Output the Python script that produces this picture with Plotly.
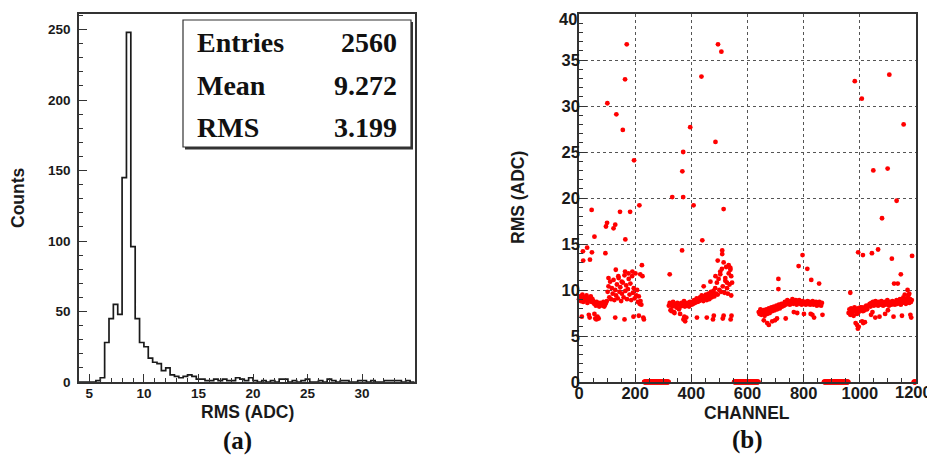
import plotly.graph_objects as go

# page body has an 8 px default margin; the figure is sized to fit the window
OFF = 8
W, H = 935 - OFF, 455 - OFF

# ---------------- Panel (a): histogram of channel RMS ----------------
hist_start = 4.0
hist_bin_width = 0.4
hist_counts = [
    0, 0, 0, 0, 1, 3, 28, 45, 55, 48, 145, 248, 96, 45, 28, 25, 17, 14, 13, 8,
    10, 5, 4, 3, 4, 5, 4, 2, 2, 1, 1, 2, 1, 2, 1, 1, 3, 2, 1, 3,
    1, 0, 1, 0, 1, 0, 2, 2, 0, 1, 0, 1, 2, 0, 0, 1, 0, 2, 1, 0,
    1, 1, 0, 0, 1, 1, 0, 1, 0, 0, 1, 1, 1, 1, 0, 1, 0,
]
hist_xticks = [5, 10, 15, 20, 25, 30]
hist_yticks = [0, 50, 100, 150, 200, 250]
stats_labels = ["Entries", "Mean", "RMS"]
stats_values = ["2560", "9.272", "3.199"]

# ---------------- Panel (b): RMS per channel ----------------
chan_xticks = [0, 200, 400, 600, 800, 1000, 1200]
rms_yticks = [0, 5, 10, 15, 20, 25, 30, 35, 40]

band_step = 3
block1_start = 0
block1_band = [
    9.0, 9.3, 8.8, 9.1, 9.5, 8.7, 9.0, 9.2, 8.9, 9.4, 8.6, 9.1, 8.8, 9.0, 9.3, 8.7, 9.0,
    8.8, 8.5, 8.6, 8.3, 8.7, 8.4, 8.5, 8.2, 8.6, 8.4, 8.5, 8.3, 8.7, 8.5, 8.4, 8.6, 8.8,
    9.8, 10.4, 9.2, 10.9, 9.0, 10.2, 9.6, 11.1, 8.9, 10.0, 9.4, 10.6, 9.1, 11.3, 9.8,
    10.3, 8.8, 9.6, 10.8, 9.2, 11.6, 9.9, 10.5, 9.0, 10.1, 11.2, 9.5, 10.7, 8.9, 11.5,
    9.7, 10.2, 9.1, 11.8, 9.4, 10.0, 8.7, 9.3, 8.5, 8.8, 8.4,
]
block2_start = 320
block2_band = [
    8.3, 8.6, 7.8, 8.4, 8.2, 8.7, 7.6, 8.5, 8.3, 8.1, 8.6, 8.4, 7.9, 8.5, 8.2, 8.6, 8.3,
    8.4, 8.8, 8.2, 8.5, 8.3, 8.6, 8.4, 8.2, 8.7, 8.5,
    8.4, 8.7, 8.5, 8.9, 8.6, 8.8, 9.1, 8.7, 9.0, 8.8, 9.2, 8.9, 9.4, 9.0, 8.8, 9.3, 9.1,
    9.5, 8.9, 9.2, 9.6, 9.0, 9.4, 9.8, 9.2, 9.5, 9.9,
    9.3, 10.2, 9.6, 10.8, 9.5, 11.2, 10.0, 11.7, 9.8, 12.3, 10.4, 13.0, 9.7, 11.0, 12.5,
    10.2, 9.6, 11.8, 10.6, 12.4, 9.4, 10.8,
]
block3_start = 640
block3_band = [
    7.6, 7.4, 7.9, 7.3, 7.7, 7.5, 7.8, 7.2, 7.6, 7.9, 7.4, 7.7, 8.0, 7.5, 7.8, 8.1, 7.7,
    7.9, 8.2, 7.8, 8.1, 8.3, 7.9, 8.2, 8.4, 8.0, 8.3, 8.5, 8.2,
    8.5, 8.3, 8.7, 8.4, 8.6, 8.9, 8.5, 8.7, 8.4, 8.8, 8.6, 9.0, 8.5, 8.8, 8.6, 8.9, 8.4,
    8.7, 8.6, 8.9, 8.5, 8.7, 8.4, 8.8, 8.6, 8.5, 8.7, 8.4, 8.6, 8.8, 8.5, 8.7, 8.4, 8.6,
    8.5, 8.8, 8.4, 8.6, 8.5, 8.7, 8.3, 8.6, 8.4, 8.7, 8.5, 8.3, 8.6,
]
block4_start = 960
block4_band = [
    7.5, 7.9, 7.3, 8.0, 7.6, 7.8, 7.2, 8.1, 7.7, 7.9, 7.4, 8.0, 7.6, 7.8, 8.1,
    7.9, 8.1, 7.7, 8.0, 7.8, 8.2, 8.3, 7.9, 8.2,
    8.3, 8.5, 8.2, 8.6, 8.4, 8.7, 8.3, 8.5, 8.8, 8.4, 8.6, 8.3, 8.7, 8.5, 8.4, 8.8, 8.6,
    8.3, 8.5, 8.7, 8.4, 8.6, 8.9, 8.5, 8.3, 8.7, 8.6, 8.4, 8.8, 8.5, 8.7, 8.4, 8.6, 8.9,
    8.5, 8.7, 8.6, 9.0, 8.4, 8.8, 8.6, 9.2, 8.7, 8.9, 8.5, 9.1, 8.8, 9.4, 8.6, 9.0, 8.7, 8.9,
]

# scattered points away from the main band (channel, rms)
extra_channels = [
    # block 1
    170, 164, 101, 133, 156, 196, 215, 182, 146, 45, 100, 96, 123, 129, 165, 55, 94,
    29, 14, 15, 39, 46, 224, 131, 164, 176, 152, 105, 140, 226, 218, 190,
    10, 35, 38, 55, 58, 62, 66, 70, 90, 129, 162, 194, 229, 231, 213,
    # block 2
    495, 507, 436, 396, 486, 371, 368, 371, 332, 408, 515, 439, 367, 323,
    510, 510, 494, 533, 539, 503, 468, 486, 521, 527, 542, 444,
    330, 340, 360, 372, 375, 378, 382, 420, 455, 477, 480, 512, 515, 540, 543,
    # block 3
    710, 710, 796, 782, 813, 827, 855,
    658, 670, 676, 688, 698, 705, 736, 765, 777, 801, 825, 831, 837, 867,
    # block 4
    982, 1007, 1105, 1156, 1099, 1048, 1131, 1079, 994, 1011, 1043, 1065, 1114,
    1186, 1146, 1122, 1135, 966, 1170, 1176, 1160,
    975, 985, 990, 993, 996, 1008, 1012, 1018, 1040, 1045, 1055, 1070, 1090, 1100,
    1120, 1150, 1180, 1183,
]
extra_rms = [
    # block 1
    36.7, 32.9, 30.3, 29.1, 27.4, 24.1, 19.2, 18.5, 18.5, 18.7, 17.3, 16.9, 16.7, 17.1,
    15.5, 15.8, 14.0, 14.6, 14.2, 13.2, 13.3, 14.1, 12.7, 12.2, 12.0, 11.8, 10.9, 11.3,
    11.5, 11.5, 11.7, 12.0,
    7.1, 7.3, 7.0, 7.4, 6.9, 6.8, 7.1, 6.9, 8.2, 7.0, 6.8, 7.1, 7.0, 6.8, 7.2,
    # block 2
    36.7, 35.9, 33.2, 27.7, 26.1, 25.0, 22.9, 20.1, 20.1, 19.2, 18.8, 15.4, 14.3, 11.7,
    14.3, 13.9, 13.2, 12.7, 12.2, 12.0, 10.9, 11.5, 11.3, 10.8, 11.5, 10.4,
    7.7, 7.5, 7.4, 6.8, 7.1, 6.6, 7.0, 7.0, 7.0, 6.8, 7.2, 6.9, 7.2, 6.8, 7.2,
    # block 3
    11.2, 10.1, 13.8, 12.6, 12.3, 11.1, 10.7,
    6.7, 6.4, 6.2, 6.6, 6.7, 6.9, 6.9, 7.6, 7.5, 7.4, 7.4, 7.3, 7.0, 7.3,
    # block 4
    32.7, 30.8, 33.4, 28.0, 23.2, 23.0, 19.7, 17.8, 14.1, 13.8, 14.0, 14.4, 13.4,
    13.7, 11.7, 10.7, 10.7, 9.7, 10.0, 9.6, 9.5,
    7.3, 6.4, 6.2, 5.8, 6.0, 6.6, 6.4, 6.5, 7.3, 7.6, 7.0, 7.1, 7.4, 7.8,
    7.1, 7.2, 7.3, 7.0,
]
# dead channels (RMS = 0), inclusive ranges
dead_ranges = [(232, 319), (552, 639), (872, 959), (1192, 1199)]


def px(x):
    # x in window pixels -> paper fraction
    return (x - OFF) / W


def py(y):
    return 1 - (y - OFF) / H


fig = go.Figure()

# histogram as ROOT-style step outline
edges = [hist_start + i * hist_bin_width for i in range(len(hist_counts) + 1)]
fig.add_trace(go.Scatter(
    x=edges, y=hist_counts + [hist_counts[-1]], mode="lines",
    line=dict(shape="hv", color="#1a1a1a", width=1.7),
    xaxis="x", yaxis="y", showlegend=False, hoverinfo="skip",
))

# scatter points
ch_all, rms_all = [], []
for start, band in [(block1_start, block1_band), (block2_start, block2_band),
                    (block3_start, block3_band), (block4_start, block4_band)]:
    ch_all += [start + band_step * i for i in range(len(band))]
    rms_all += band
ch_all += extra_channels
rms_all += extra_rms
for a, b in dead_ranges:
    ch_all += list(range(a, b + 1))
    rms_all += [0.0] * (b - a + 1)

fig.add_trace(go.Scatter(
    x=ch_all, y=rms_all, mode="markers",
    marker=dict(symbol="circle", size=4.8, color="#ff0000", line=dict(width=0)),
    xaxis="x2", yaxis="y2", showlegend=False, cliponaxis=False,
))

sans = "Liberation Sans, Arial, sans-serif"
serif = "Liberation Serif, Times New Roman, serif"
font_a = dict(family=sans, size=13.5, color="#1a1a1a", weight="bold")
font_b = dict(family=sans, size=16.5, color="#1a1a1a", weight="bold")
common = dict(showline=True, linecolor="#333333", linewidth=1.5, mirror=True,
              ticks="inside", tickcolor="#333333", tickwidth=1.2, ticklen=8,
              zeroline=False, automargin=False, ticklabeloverflow="allow")

# the edge labels of panel (b) ("1200" and "40") would be clipped by the page
# edge, so they are drawn as annotations placed just inside it
x2_text = [str(v) if v != chan_xticks[-1] else "" for v in chan_xticks]
y2_text = [str(v) if v != rms_yticks[-1] else "" for v in rms_yticks]

ydom = [py(382), py(14)]
fig.update_layout(
    width=W, height=H, margin=dict(l=0, r=0, t=0, b=0, autoexpand=False),
    paper_bgcolor="white", plot_bgcolor="white", showlegend=False,
    xaxis=dict(domain=[px(79), px(415)], range=[4.05, 34.85], tickvals=hist_xticks,
               showgrid=False, anchor="y", tickfont=font_a, ticklabelstandoff=-2,
               minor=dict(ticks="inside", ticklen=4, dtick=1, tick0=0, tickcolor="#333333"),
               **common),
    yaxis=dict(domain=ydom, range=[0, 261], tickvals=hist_yticks,
               showgrid=False, anchor="x", tickfont=font_a, ticklabelstandoff=4,
               minor=dict(ticks="inside", ticklen=4, dtick=10, tick0=0, tickcolor="#333333"),
               **common),
    xaxis2=dict(domain=[px(579), px(916)], range=[0, 1200], tickvals=chan_xticks, ticktext=x2_text,
                showgrid=True, gridcolor="#555555", griddash="dot", gridwidth=1, anchor="y2",
                tickfont=font_b, ticklabelstandoff=-5,
                minor=dict(ticks="inside", ticklen=4, dtick=50, tick0=0, tickcolor="#333333"),
                **common),
    yaxis2=dict(domain=ydom, range=[0, 40], tickvals=rms_yticks, ticktext=y2_text,
                showgrid=True, gridcolor="#555555", griddash="dot", gridwidth=1, anchor="x2",
                tickfont=font_b, ticklabelstandoff=-6,
                minor=dict(ticks="inside", ticklen=4, dtick=1, tick0=0, tickcolor="#333333"),
                **common),
)

ann = dict(xref="paper", yref="paper", showarrow=False, xanchor="center", yanchor="middle")
fig.add_annotation(x=px(934), y=py(392), text=str(chan_xticks[-1]), font=font_b,
                   **{**ann, "xanchor": "right"})
fig.add_annotation(x=px(579), y=py(8), text=str(rms_yticks[-1]), font=font_b,
                   **{**ann, "xanchor": "right", "yanchor": "top"})

# stats box (shadow + box)
fig.add_shape(type="rect", xref="paper", yref="paper",
              x0=px(185), x1=px(413), y0=py(149.5), y1=py(22),
              fillcolor="#333333", line=dict(width=0), layer="above")
fig.add_shape(type="rect", xref="paper", yref="paper",
              x0=px(183), x1=px(411), y0=py(147), y1=py(20),
              fillcolor="white", line=dict(color="#333333", width=1.2), layer="above")

row_y = [43, 86, 127]
for lab, val, yy in zip(stats_labels, stats_values, row_y):
    fig.add_annotation(x=px(195), y=py(yy), text=lab,
                       font=dict(family=serif, size=28, color="#111111", weight="bold"),
                       **{**ann, "xanchor": "left"})
    fig.add_annotation(x=px(399), y=py(yy), text=val,
                       font=dict(family=serif, size=28, color="#111111", weight="bold"),
                       **{**ann, "xanchor": "right"})

title_font = dict(family=sans, size=17.5, color="#1a1a1a", weight="bold")
fig.add_annotation(x=px(18), y=py(198), text="Counts", textangle=-90, font=title_font, **ann)
fig.add_annotation(x=px(247), y=py(412), text="RMS (ADC)", font=title_font, **ann)
fig.add_annotation(x=px(518), y=py(198), text="RMS (ADC)", textangle=-90, font=title_font, **ann)
fig.add_annotation(x=px(747), y=py(413), text="CHANNEL", font=title_font, **ann)

panel_font = dict(family=serif, size=25, color="#111111", weight="bold")
fig.add_annotation(x=px(237), y=py(441), text="(a)", font=panel_font, **ann)
fig.add_annotation(x=px(747), y=py(440), text="(b)", font=panel_font, **ann)

fig.write_html("out.html")
